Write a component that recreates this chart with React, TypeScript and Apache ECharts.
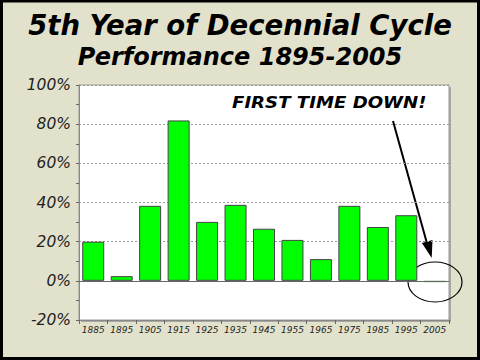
import React, { useEffect, useRef } from "react";
import * as echarts from "echarts";

const categories = ["1885", "1895", "1905", "1915", "1925", "1935", "1945", "1955", "1965", "1975", "1985", "1995", "2005"];
const performance = [20, 2.4, 38.3, 81.9, 30.1, 38.8, 26.6, 20.9, 11.1, 38.3, 27.5, 33.5, -0.6];
const yTicks = [-20, 0, 20, 40, 60, 80, 100];
const titleLine1 = "5th Year of Decennial Cycle";
const titleLine2 = "Performance 1895-2005";
const annotation = "FIRST TIME DOWN!";

export default function App() {
  const ref = useRef<HTMLDivElement>(null);
  useEffect(() => {
    if (!ref.current) return;
    const chart = echarts.init(ref.current, null, { renderer: "svg" });
    const font = "DejaVu Sans, Verdana, sans-serif";
    const lastIdx = performance.length - 1;
    chart.setOption({
      animation: false,
      backgroundColor: "#e2e2cc",
      title: [
        {
          text: titleLine1,
          left: "center",
          top: 11,
          padding: 0,
          textStyle: { fontSize: 27.5, fontWeight: "bold", fontStyle: "italic", fontFamily: font, color: "#000" },
        },
        {
          text: titleLine2,
          left: "center",
          top: 45,
          padding: 0,
          textStyle: { fontSize: 24, fontWeight: "bold", fontStyle: "italic", fontFamily: font, color: "#000" },
        },
      ],
      grid: {
        left: 79,
        right: 31,
        top: 85,
        bottom: 40,
        show: true,
        backgroundColor: "#ffffff",
        borderColor: "#999",
        borderWidth: 1,
      },
      xAxis: {
        type: "category",
        data: categories,
        position: "bottom",
        boundaryGap: true,
        axisLine: { show: true, onZero: false, lineStyle: { color: "#888", width: 1 } },
        axisTick: { show: true, length: 4, alignWithLabel: false, lineStyle: { color: "#666" } },
        axisLabel: { fontSize: 9, fontStyle: "italic", fontFamily: font, color: "#222", margin: 5, interval: 0 },
      },
      yAxis: {
        type: "value",
        min: yTicks[0],
        max: yTicks[yTicks.length - 1],
        interval: 20,
        axisLine: { show: true, lineStyle: { color: "#888", width: 1 } },
        axisTick: { show: true, length: 3, lineStyle: { color: "#666" } },
        minorTick: { show: true, splitNumber: 2, length: 3, lineStyle: { color: "#666" } },
        axisLabel: {
          fontSize: 15.5,
          fontStyle: "italic",
          fontFamily: font,
          color: "#222",
          margin: 8,
          formatter: (v: number) => `${v}%`,
        },
        splitLine: { show: true, lineStyle: { color: "#999", type: [2, 2], width: 1 } },
      },
      series: [
        {
          type: "bar",
          data: performance.map((v, i) =>
            i === lastIdx
              ? { value: v, itemStyle: { color: "#2e8b2e", borderColor: "#2e8b2e", borderWidth: 0.5 } }
              : v
          ),
          barWidth: 22,
          itemStyle: { color: "#00ff00", borderColor: "#444", borderWidth: 1 },
          markLine: {
            silent: true,
            symbol: "none",
            label: { show: false },
            lineStyle: { color: "#666", type: "solid", width: 1 },
            data: [{ yAxis: 0 }],
          },
        },
      ],
      graphic: [
        {
          type: "rect",
          z: -1,
          shape: { x: 81, y: 87, width: 370, height: 235 },
          style: { fill: "#a8a8a0" },
        },
        {
          type: "text",
          x: 232,
          y: 94,
          scaleX: 1.17,
          style: {
            x: 0,
            y: 0,
            text: annotation,
            fontSize: 15.5,
            fontWeight: "bold",
            fontStyle: "italic",
            fontFamily: font,
            fill: "#000",
            verticalAlign: "top",
          },
        },
        {
          type: "line",
          shape: { x1: 393, y1: 121, x2: 428, y2: 247 },
          style: { stroke: "#000", lineWidth: 2 },
        },
        {
          type: "polygon",
          shape: { points: [[431.7, 258], [432.5, 240.1], [421.9, 243.1]] },
          style: { fill: "#000" },
        },
        {
          type: "ellipse",
          shape: { cx: 435, cy: 282, rx: 27, ry: 20 },
          style: { fill: "none", stroke: "#000", lineWidth: 1.2 },
        },
        {
          type: "rect",
          z: 100,
          shape: { x: 1.5, y: 1, width: 477, height: 357.5 },
          style: { fill: "none", stroke: "#000", lineWidth: 3 },
        },
      ],
    });
    return () => chart.dispose();
  }, []);
  return <div ref={ref} style={{ position: "fixed", left: 0, top: 0, width: 480, height: 360 }} />;
}
